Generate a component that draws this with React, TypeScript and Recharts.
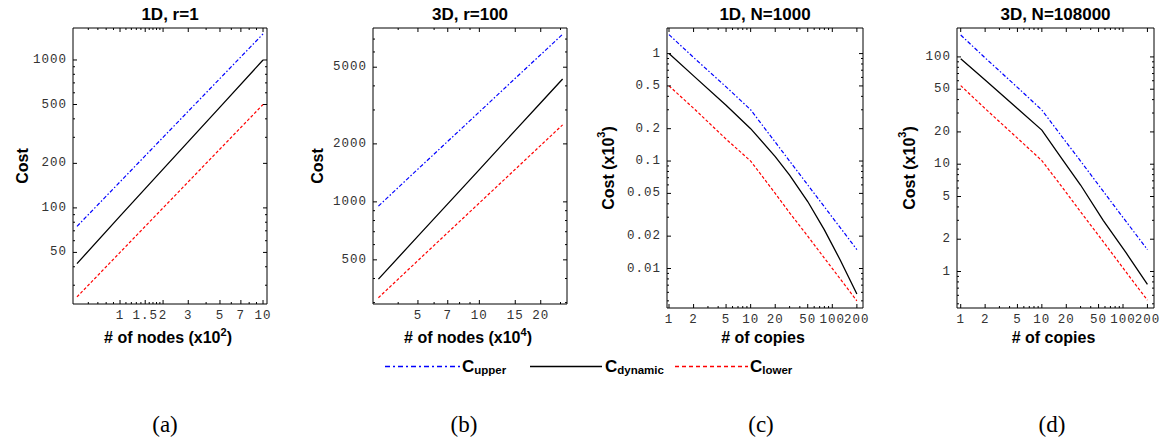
import React from 'react';
import { LineChart, Line, XAxis, YAxis } from 'recharts';

// (a) 1D, r=1 -- nodes in units of 10^2
const nodesA = [0.5, 1, 2, 5, 10];
const upperA = [75, 150, 300, 750, 1500];
const dynamicA = [42, 88, 183, 480, 1000];
const lowerA = [25, 50, 100, 250, 500];

// (b) 3D, r=100 -- nodes in units of 10^4
const nodesB = [3.2, 5, 10, 15, 20, 25.6];
const upperB = [950, 1480, 2930, 4380, 5810, 7410];
const dynamicB = [397, 664, 1470, 2350, 3270, 4340];
const lowerB = [318, 496, 987, 1476, 1965, 2510];

// (c) 1D, N=1000 -- cost in units of 10^3
const copiesC = [1, 2, 5, 10, 20, 30, 50, 80, 125, 200];
const upperC = [1.5, 0.92, 0.49, 0.3, 0.15, 0.1, 0.06, 0.0375, 0.024, 0.015];
const dynamicC = [1.0, 0.62, 0.33, 0.2, 0.11, 0.074, 0.042, 0.0229, 0.012, 0.0058];
const lowerC = [0.5, 0.31, 0.16, 0.1, 0.05, 0.033, 0.02, 0.0125, 0.008, 0.005];

// (d) 3D, N=108000 -- cost in units of 10^3
const copiesD = [1, 2, 5, 10, 17, 30, 57, 110, 200];
const upperD = [160, 98, 52, 32, 18.8, 10.7, 5.6, 2.9, 1.6];
const dynamicD = [96, 61, 33, 20.8, 11.7, 6.4, 3.0, 1.48, 0.76];
const lowerD = [54, 33, 17.5, 10.8, 6.4, 3.6, 1.9, 0.98, 0.54];

// ticks
const nodesATicks = [1, 1.5, 2, 3, 5, 7, 10];
const nodesATickLabels = ['1', '1.5', '2', '3', '5', '7', '10'];
const nodesAMinor = [0.6, 0.7, 0.8, 0.9, 1.1, 1.2, 1.3, 1.4, 1.6, 1.7, 1.8, 1.9, 4, 6, 8, 9];
const costATicks = [50, 100, 200, 500, 1000];
const costAMinor = [30, 40, 60, 70, 80, 90, 300, 400, 600, 700, 800, 900];

const nodesBTicks = [5, 7, 10, 15, 20];
const nodesBMinor = [4, 6, 8, 9, 25];
const costBTicks = [500, 1000, 2000, 5000];
const costBMinor = [300, 400, 600, 700, 800, 900, 3000, 4000, 6000, 7000];

const copiesTicks = [1, 2, 5, 10, 20, 50, 100, 200];
const copiesMinor = [3, 4, 6, 7, 8, 9, 30, 40, 60, 70, 80, 90];
const costCTicks = [0.01, 0.02, 0.05, 0.1, 0.2, 0.5, 1];
const costCTickLabels = ['0.01', '0.02', '0.05', '0.1', '0.2', '0.5', '1'];
const costCMinor = [0.005, 0.006, 0.007, 0.008, 0.009, 0.03, 0.04, 0.06, 0.07, 0.08, 0.09, 0.3, 0.4, 0.6, 0.7, 0.8, 0.9];
const costDTicks = [1, 2, 5, 10, 20, 50, 100];
const costDMinor = [0.5, 0.6, 0.7, 0.8, 0.9, 3, 4, 6, 7, 8, 9, 30, 40, 60, 70, 80, 90];

const BLUE = '#0000ff';
const RED = '#ff0000';
const MONO = '"Liberation Mono", "DejaVu Sans Mono", monospace';
const SANS = '"Liberation Sans", Arial, sans-serif';
const SERIF = '"Liberation Serif", "Times New Roman", serif';

function rows(xs: number[], up: number[], dyn: number[], low: number[]) {
  return xs.map((x, i) => ({ x, upper: up[i], dynamic: dyn[i], lower: low[i] }));
}

// inward frame tick, long for labelled values, short for minor ones
function LogTick(props: any) {
  const { x, y, payload, side, majors, labels, gap } = props;
  const v = payload.value;
  const k = majors.indexOf(v);
  const len = k >= 0 ? 4 : 2;
  const text = labels && k >= 0 ? labels[k] : null;
  let mark;
  if (side === 'bottom') mark = <line x1={x} x2={x} y1={y - gap} y2={y - gap - len} />;
  else if (side === 'top') mark = <line x1={x} x2={x} y1={y + gap} y2={y + gap + len} />;
  else if (side === 'left') mark = <line x1={x + gap} x2={x + gap + len} y1={y} y2={y} />;
  else mark = <line x1={x - gap} x2={x - gap - len} y1={y} y2={y} />;
  return (
    <g>
      <g stroke="#000" strokeWidth={1}>{mark}</g>
      {text && (
        <text
          x={x}
          y={y}
          textAnchor={side === 'left' ? 'end' : 'middle'}
          dominantBaseline="central"
          fontFamily={MONO}
          fontSize={12.5}
          letterSpacing={1}
          fill="#333"
        >
          {text}
        </text>
      )}
    </g>
  );
}

interface PanelProps {
  left: number;
  width: number;
  box: { l: number; r: number; t: number; b: number };
  data: any[];
  xDomain: [number, number];
  yDomain: [number, number];
  xMajor: number[];
  xMinor: number[];
  xLabels: string[];
  yMajor: number[];
  yMinor: number[];
  yLabels: string[];
  xTitle: string;
  xSup?: string;
  yTitle: string;
  ySup?: string;
  yTitleX: number;
}

const CH = 360;

function Panel(p: PanelProps) {
  const xTicks = [...p.xMajor, ...p.xMinor];
  const yTicks = [...p.yMajor, ...p.yMinor];
  const yAxisW = p.box.l - p.left;
  // top / right frame axes are 1px thick so they still render
  const margin = { top: p.box.t - 1, right: p.width - (p.box.r - p.left) - 1, bottom: CH - p.box.b - 40, left: 0 };

  const xLabel = (lp: any) => {
    const vb = lp.viewBox || {};
    return (
      <text x={vb.x + vb.width / 2 - 2} y={342.5} textAnchor="middle" fontFamily={SANS} fontWeight="bold" fontSize={16} fill="#000">
        {p.xTitle}
        {p.xSup && (
          <>
            <tspan fontSize={11} dy={-7}>{p.xSup}</tspan>
            <tspan dy={7}>)</tspan>
          </>
        )}
      </text>
    );
  };
  const yLabel = (lp: any) => {
    const vb = lp.viewBox || {};
    const cy = vb.y + vb.height / 2;
    return (
      <text
        transform={`translate(${p.yTitleX},${cy}) rotate(-90)`}
        textAnchor="middle"
        dominantBaseline="central"
        fontFamily={SANS}
        fontWeight="bold"
        fontSize={16}
        fill="#000"
      >
        {p.yTitle}
        {p.ySup && (
          <>
            <tspan fontSize={11} dy={-7}>{p.ySup}</tspan>
            <tspan dy={7}>)</tspan>
          </>
        )}
      </text>
    );
  };

  return (
    <div style={{ position: 'absolute', left: p.left, top: 0 }}>
      <LineChart width={p.width} height={CH} data={p.data} margin={margin}>
        <XAxis
          dataKey="x"
          type="number"
          scale="log"
          domain={p.xDomain}
          allowDataOverflow
          ticks={xTicks}
          interval={0}
          height={40}
          tickSize={0}
          tickMargin={12}
          axisLine={{ stroke: '#000' }}
          tickLine={false}
          tick={<LogTick side="bottom" majors={p.xMajor} labels={p.xLabels} gap={12} />}
          label={xLabel}
        />
        <XAxis
          xAxisId="top"
          dataKey="x"
          type="number"
          scale="log"
          orientation="top"
          domain={p.xDomain}
          allowDataOverflow
          ticks={xTicks}
          interval={0}
          height={1}
          tickSize={0}
          tickMargin={0}
          axisLine={{ stroke: '#000' }}
          tickLine={false}
          tick={<LogTick side="top" majors={p.xMajor} labels={null} gap={0} />}
        />
        <YAxis
          type="number"
          scale="log"
          domain={p.yDomain}
          allowDataOverflow
          ticks={yTicks}
          interval={0}
          width={yAxisW}
          tickSize={0}
          tickMargin={6}
          axisLine={{ stroke: '#000' }}
          tickLine={false}
          tick={<LogTick side="left" majors={p.yMajor} labels={p.yLabels} gap={6} />}
          label={yLabel}
        />
        <YAxis
          yAxisId="right"
          type="number"
          scale="log"
          orientation="right"
          domain={p.yDomain}
          allowDataOverflow
          ticks={yTicks}
          interval={0}
          width={1}
          tickSize={0}
          tickMargin={0}
          axisLine={{ stroke: '#000' }}
          tickLine={false}
          tick={<LogTick side="right" majors={p.yMajor} labels={null} gap={0} />}
        />
        <Line dataKey="upper" type="linear" stroke={BLUE} strokeWidth={1.2} strokeDasharray="4 2 1.5 2" dot={false} isAnimationActive={false} />
        <Line dataKey="dynamic" type="linear" stroke="#000" strokeWidth={1.3} dot={false} isAnimationActive={false} />
        <Line dataKey="lower" type="linear" stroke={RED} strokeWidth={1.2} strokeDasharray="3 2" dot={false} isAnimationActive={false} />
      </LineChart>
    </div>
  );
}

const titles = [
  { text: '1D, r=1', x: 170 },
  { text: '3D, r=100', x: 470 },
  { text: '1D, N=1000', x: 765 },
  { text: '3D, N=108000', x: 1055.5 },
];
const captions = [
  { text: '(a)', x: 165 },
  { text: '(b)', x: 464 },
  { text: '(c)', x: 761 },
  { text: '(d)', x: 1052 },
];

export default function App() {
  return (
    <div style={{ position: 'absolute', left: 0, top: 0, width: 1173, height: 444, background: '#fff', overflow: 'hidden' }}>
      <Panel
        left={0}
        width={290}
        box={{ l: 73, r: 267, t: 28, b: 304 }}
        data={rows(nodesA, upperA, dynamicA, lowerA)}
        xDomain={[0.469, 10.66]}
        yDomain={[22.4, 1645]}
        xMajor={nodesATicks}
        xMinor={nodesAMinor}
        xLabels={nodesATickLabels}
        yMajor={costATicks}
        yMinor={costAMinor}
        yLabels={costATicks.map(String)}
        xTitle="# of nodes (x10"
        xSup="2"
        yTitle="Cost"
        yTitleX={22}
      />
      <Panel
        left={290}
        width={290}
        box={{ l: 373, r: 567, t: 28, b: 304 }}
        data={rows(nodesB, upperB, dynamicB, lowerB)}
        xDomain={[3.01, 26.9]}
        yDomain={[295, 7990]}
        xMajor={nodesBTicks}
        xMinor={nodesBMinor}
        xLabels={nodesBTicks.map(String)}
        yMajor={costBTicks}
        yMinor={costBMinor}
        yLabels={costBTicks.map(String)}
        xTitle="# of nodes (x10"
        xSup="4"
        yTitle="Cost"
        yTitleX={27}
      />
      <Panel
        left={580}
        width={300}
        box={{ l: 667, r: 863, t: 28, b: 308 }}
        data={rows(copiesC, upperC, dynamicC, lowerC)}
        xDomain={[0.945, 237.7]}
        yDomain={[0.00429, 1.73]}
        xMajor={copiesTicks}
        xMinor={copiesMinor}
        xLabels={copiesTicks.map(String)}
        yMajor={costCTicks}
        yMinor={costCMinor}
        yLabels={costCTickLabels}
        xTitle="# of copies"
        yTitle="Cost (x10"
        ySup="3"
        yTitleX={28}
      />
      <Panel
        left={870}
        width={303}
        box={{ l: 957, r: 1154, t: 28, b: 308 }}
        data={rows(copiesD, upperD, dynamicD, lowerD)}
        xDomain={[0.9, 241]}
        yDomain={[0.457, 186]}
        xMajor={copiesTicks}
        xMinor={copiesMinor}
        xLabels={copiesTicks.map(String)}
        yMajor={costDTicks}
        yMinor={costDMinor}
        yLabels={costDTicks.map(String)}
        xTitle="# of copies"
        yTitle="Cost (x10"
        ySup="3"
        yTitleX={39}
      />
      <svg width={1173} height={444} style={{ position: 'absolute', left: 0, top: 0, pointerEvents: 'none' }}>
        {titles.map((t) => (
          <text key={t.text} x={t.x} y={20} textAnchor="middle" fontFamily={SANS} fontWeight="bold" fontSize={17}>
            {t.text}
          </text>
        ))}
        {/* legend */}
        <line x1={385} x2={460} y1={366.5} y2={366.5} stroke={BLUE} strokeWidth={1.3} strokeDasharray="5 3 2 3" />
        <text x={462} y={372} fontFamily={SANS} fontWeight="bold" fontSize={17}>
          C<tspan fontSize={11.5} dy={1.5}>upper</tspan>
        </text>
        <line x1={530} x2={602} y1={366.5} y2={366.5} stroke="#000" strokeWidth={1.3} />
        <text x={605} y={372} fontFamily={SANS} fontWeight="bold" fontSize={17}>
          C<tspan fontSize={11.5} dy={1.5}>dynamic</tspan>
        </text>
        <line x1={675} x2={748} y1={366.5} y2={366.5} stroke={RED} strokeWidth={1.3} strokeDasharray="4 3" />
        <text x={750} y={372} fontFamily={SANS} fontWeight="bold" fontSize={17}>
          C<tspan fontSize={11.5} dy={1.5}>lower</tspan>
        </text>
        {captions.map((c) => (
          <text key={c.text} x={c.x} y={432} textAnchor="middle" fontFamily={SERIF} fontSize={23}>
            {c.text}
          </text>
        ))}
      </svg>
    </div>
  );
}
